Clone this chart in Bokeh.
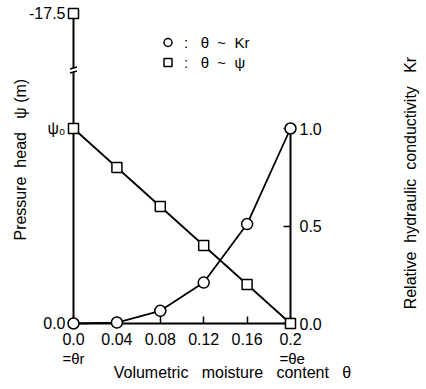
import math
from bokeh.plotting import figure
from bokeh.models import (LinearAxis, FixedTicker, Range1d, Label, Legend, LegendItem)
from bokeh.embed import file_html
from bokeh.resources import INLINE

NB = "\u00a0"

# ---- data ----
theta = [0.0, 0.04, 0.08, 0.12, 0.16, 0.2]
kr = [0.0, 0.005, 0.065, 0.21, 0.51, 1.0]
psi_rel = [1.0, 0.8, 0.6, 0.4, 0.2, 0.0]      # psi / psi0 (left axis, linear part)
psi_top_theta = [0.0]
psi_top_pos = [1.59]                           # position of the -17.5 m point (broken axis)

x_ticks = [0.0, 0.04, 0.08, 0.12, 0.16, 0.2]
x_tick_labels = ["0.0", "0.04", "0.08", "0.12", "0.16", "0.2"]
left_ticks = [0, 1, 1.59]
left_tick_labels = ["0.0", "ψ\u2080", "-17.5"]
right_ticks = [0, 0.5, 1]
right_tick_labels = ["0.0", "0.5", "1.0"]
legend_labels = [":" + NB * 3 + "θ" + NB * 2 + "~" + NB * 2 + "Kr",
                 ":" + NB * 3 + "θ" + NB * 2 + "~" + NB * 2 + "ψ"]

FONT = "Liberation Sans"
W, H = 426, 389
X0PX, XSCALE = 73.0, 1085.0     # pixel of theta=0, pixels per unit
Y0PX, YSCALE = 323.0, 195.0     # pixel (from top) of y=0, pixels per unit

p = figure(width=W, height=H, output_backend="svg", toolbar_location=None,
           x_range=Range1d(-X0PX / XSCALE, (W - X0PX) / XSCALE),
           y_range=Range1d(-(H - Y0PX) / YSCALE, Y0PX / YSCALE),
           x_axis_location=None, y_axis_location=None,
           min_border=0, min_border_left=0, min_border_right=0,
           min_border_top=0, min_border_bottom=0)
p.outline_line_color = None
p.grid.grid_line_color = None
p.background_fill_color = "white"
p.border_fill_color = "white"


def style_axis(ax, ticks, labels, bounds, loc, tick_in):
    ax.ticker = FixedTicker(ticks=ticks)
    ax.major_label_overrides = dict(zip(ticks, labels))
    ax.bounds = bounds
    ax.fixed_location = loc
    ax.axis_line_width = 2
    ax.axis_line_color = "black"
    ax.major_tick_in = tick_in
    ax.major_tick_out = 0
    ax.major_tick_line_width = 1.5
    ax.minor_tick_line_color = None
    ax.major_label_text_font = FONT
    ax.major_label_text_font_size = "16px"
    ax.major_label_text_color = "black"


xa = LinearAxis()
style_axis(xa, x_ticks, x_tick_labels, (0, 0.2), 0, 7)
xa.major_label_standoff = 9
p.add_layout(xa, "below")

ya = LinearAxis()
style_axis(ya, left_ticks, left_tick_labels, (0, 1.59), 0, 0)
ya.major_label_standoff = 8
ya.major_label_orientation = "horizontal"
p.add_layout(ya, "left")

ra = LinearAxis()
style_axis(ra, right_ticks, right_tick_labels, (0, 1), 0.2, 7)
ra.major_label_standoff = 9
ra.major_label_orientation = "horizontal"
p.add_layout(ra, "right")

# ---- data lines ----
p.line(theta, psi_rel, line_color="black", line_width=1.8)
p.line(theta, kr, line_color="black", line_width=1.8)

# axis break marks on the left axis
brk_y = 1.30
px = 1 / XSCALE
py = 1 / YSCALE
p.rect(x=[0], y=[brk_y], width=7 * px, height=4 * py, fill_color="white", line_color=None, level="overlay")
p.segment(x0=[-3.5 * px, -3.5 * px], y0=[brk_y + 1.0 * py, brk_y - 3.0 * py],
          x1=[3.5 * px, 3.5 * px], y1=[brk_y + 3.0 * py, brk_y - 1.0 * py],
          line_color="black", line_width=1.5, level="overlay")

sq = p.scatter(theta + psi_top_theta, psi_rel + psi_top_pos, marker="square", size=10,
               fill_color="white", line_color="black", line_width=1.5, level="overlay")
ci = p.scatter(theta, kr, marker="circle", size=11,
               fill_color="white", line_color="black", line_width=1.5, level="overlay")

legend = Legend(items=[LegendItem(label=legend_labels[0], renderers=[ci]),
                       LegendItem(label=legend_labels[1], renderers=[sq])],
                location=(157, 317), margin=0, padding=0, spacing=-3,
                glyph_width=21, glyph_height=20, label_standoff=6,
                border_line_color=None, background_fill_alpha=0,
                label_text_font=FONT, label_text_font_size="15px", label_text_color="black")
p.add_layout(legend)

# ---- text labels ----
def lab(x, y, text, size="14px", angle=0.0, align="center"):
    p.add_layout(Label(x=x, y=y, text=text, text_font=FONT, text_font_size=size,
                       text_align=align, text_baseline="middle", angle=angle,
                       text_color="black"))

lab(0.0, -0.177, "=θr", size="15px")
lab(0.2015, -0.177, "=θe", size="15px")
lab(0.1465, -0.252, "Volumetric" + NB * 3 + "moisture" + NB * 3 + "content" + NB * 3 + "θ", size="16px")
lab(-0.0485, 0.84, "Pressure" + NB * 2 + "head" + NB * 3 + "ψ" + NB + "(m)", size="16px", angle=math.pi / 2)
lab(0.3106, 0.72, "Relative" + NB * 2 + "hydraulic" + NB * 2 + "conductivity" + NB * 3 + "Kr",
    size="16px", angle=math.pi / 2)

open("out.html", "w").write(file_html(p, INLINE))
